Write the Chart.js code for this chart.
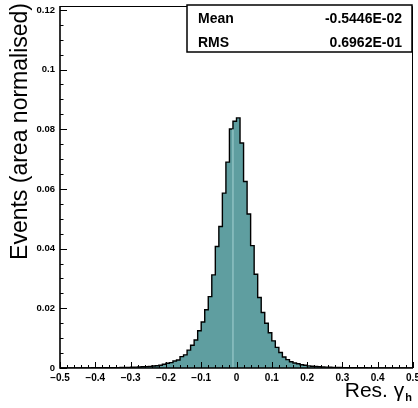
<!DOCTYPE html>
<html><head><meta charset="utf-8">
<script src="https://cdn.jsdelivr.net/npm/chart.js@4/dist/chart.umd.min.js"></script>
<style>html,body{margin:0;padding:0;background:#fff;overflow:hidden}#wrap{width:418px;height:408px}</style>
</head><body><div id="wrap"><canvas id="c" width="418" height="408"></canvas></div>
<script>
// ---- data ----
const xRange = [-0.5, 0.5];
const values = [
  0.00003, 0.00002, 0.00003, 0.00004, 0.00003, 0.00004, 0.00005, 0.00004, 0.00005, 0.00006,
  0.00006, 0.00007, 0.00008, 0.00009, 0.0001, 0.00012, 0.00013, 0.00015, 0.00018, 0.0002,
  0.00024, 0.00028, 0.00033, 0.0004, 0.00047, 0.00055, 0.00065, 0.00077, 0.0009, 0.00124,
  0.0016, 0.0018, 0.00235, 0.0027, 0.0038, 0.0044, 0.0060, 0.0076, 0.0094, 0.0125,
  0.0154, 0.0195, 0.0239, 0.0312, 0.0407, 0.0474, 0.0586, 0.0690, 0.0801, 0.0827,
  0.0838, 0.0754, 0.0625, 0.0516, 0.0410, 0.0314, 0.0236, 0.0186, 0.0150, 0.0118,
  0.0091, 0.0069, 0.0052, 0.0037, 0.0028, 0.0021, 0.0017, 0.0014, 0.0011, 0.0009,
  0.0007, 0.0006, 0.0005, 0.0004, 0.00035, 0.0003, 0.00025, 0.0002, 0.00018, 0.00015,
  0.00013, 0.00011, 0.0001, 0.00009, 0.00008, 0.00007, 0.00006, 0.00005, 0.00005, 0.00004,
  0.00004, 0.00003, 0.00003, 0.00003, 0.00002, 0.00002, 0.00002, 0.00002, 0.00001, 0.00001
];
const xTickValues = [-0.5, -0.4, -0.3, -0.2, -0.1, 0, 0.1, 0.2, 0.3, 0.4, 0.5];
const xTickLabels = ['\u22120.5','\u22120.4','\u22120.3','\u22120.2','\u22120.1','0','0.1','0.2','0.3','0.4','0.5'];
const yTickValues = [0, 0.02, 0.04, 0.06, 0.08, 0.1, 0.12];
const yTickLabels = ['0','0.02','0.04','0.06','0.08','0.1','0.12'];
const statsLabels = ['Mean', 'RMS'];
const statsValues = ['-0.5446E-02', '0.6962E-01'];
const yTitle = 'Events (area normalised)';
const xTitle = 'Res. \u03b3';
const xTitleSub = 'h';
const artifactEdge = -0.01;

// ---- build histogram outline from bins ----
const nBins = values.length;
const binW = (xRange[1] - xRange[0]) / nBins;
const histPts = [];
values.forEach((v, i) => {
  const lo = xRange[0] + i * binW;
  histPts.push({x: lo, y: v}, {x: lo + binW, y: v});
});
const artIdx = Math.round((artifactEdge - xRange[0]) / binW);
const artPts = [{x: artifactEdge, y: 0}, {x: artifactEdge, y: Math.min(values[artIdx - 1], values[artIdx])}];

const FONT = "'Liberation Sans', Arial, Helvetica, sans-serif";
function labelFor(vals, labs, v) {
  for (let i = 0; i < vals.length; i++) if (Math.abs(vals[i] - v) < 1e-6) return labs[i];
  return '';
}

const framePlugin = {
  id: 'frame',
  afterDatasetsDraw(chart) {
    const {ctx, chartArea: a, scales: {x, y}} = chart;
    ctx.save();
    ctx.strokeStyle = '#000';
    ctx.lineWidth = 1;
    ctx.beginPath();
    ctx.moveTo(a.left, a.top + 0.5); ctx.lineTo(a.right - 0.5, a.top + 0.5); ctx.lineTo(a.right - 0.5, a.bottom);
    ctx.stroke();
    ctx.lineWidth = 1.6;
    ctx.beginPath();
    ctx.moveTo(a.left, a.top); ctx.lineTo(a.left, a.bottom); ctx.lineTo(a.right, a.bottom);
    ctx.stroke();
    ctx.lineWidth = 1;
    ctx.beginPath();
    for (let i = 0; i <= 50; i++) {
      const v = xRange[0] + i * 0.02;
      const px = Math.round(x.getPixelForValue(v)) + 0.5;
      const len = (i % 5 === 0) ? 6 : 3;
      ctx.moveTo(px, a.bottom); ctx.lineTo(px, a.bottom - len);
    }
    for (let i = 0; i <= 24; i++) {
      const v = i * 0.005;
      const py = Math.round(y.getPixelForValue(v)) + 0.5;
      const len = (i % 4 === 0) ? 7 : 3.5;
      ctx.moveTo(a.left, py); ctx.lineTo(a.left + len, py);
    }
    ctx.stroke();
    ctx.restore();
  },
  afterDraw(chart) {
    const {ctx} = chart;
    ctx.save();
    ctx.fillStyle = '#fff';
    ctx.fillRect(187, 5, 225, 47);
    ctx.strokeStyle = '#000';
    ctx.lineWidth = 1.5;
    ctx.strokeRect(187, 5, 225, 47);
    ctx.fillStyle = '#000';
    ctx.font = 'bold 14px ' + FONT;
    ctx.textBaseline = 'alphabetic';
    const rows = [23.3, 46.7];
    statsLabels.forEach((l, i) => {
      ctx.textAlign = 'left'; ctx.fillText(l, 198, rows[i]);
      ctx.textAlign = 'right'; ctx.fillText(statsValues[i], 402, rows[i]);
    });
    ctx.save();
    ctx.translate(21, 3);
    ctx.rotate(-Math.PI / 2);
    ctx.font = '23px ' + FONT;
    ctx.textAlign = 'right';
    ctx.textBaseline = 'middle';
    ctx.fillText(yTitle, 0, 0);
    ctx.restore();
    ctx.font = '21px ' + FONT;
    const w1 = ctx.measureText(xTitle).width;
    ctx.font = 'bold 11px ' + FONT;
    const w2 = ctx.measureText(xTitleSub).width;
    const right = 412;
    ctx.textAlign = 'left';
    ctx.textBaseline = 'alphabetic';
    ctx.font = '21px ' + FONT;
    ctx.fillText(xTitle, right - w1 - w2 - 1, 397);
    ctx.font = 'bold 11px ' + FONT;
    ctx.fillText(xTitleSub, right - w2, 401);
    ctx.restore();
  }
};

new Chart(document.getElementById('c').getContext('2d'), {
  type: 'line',
  data: {
    datasets: [
      {data: artPts, borderColor: '#a6d3d3', borderWidth: 1, pointRadius: 0, fill: false},
      {data: histPts, borderColor: '#000', borderWidth: 1.4, backgroundColor: '#5f9ea0', fill: 'origin', pointRadius: 0, tension: 0}
    ]
  },
  options: {
    responsive: false, animation: false, devicePixelRatio: 1,
    layout: {padding: {left: 0, right: 5, top: 6, bottom: 0}},
    plugins: {legend: {display: false}, tooltip: {enabled: false}},
    scales: {
      x: {
        type: 'linear', min: xRange[0], max: xRange[1],
        grid: {display: false, drawTicks: false}, border: {display: false},
        ticks: {stepSize: 0.1, autoSkip: false, maxRotation: 0, padding: 4, color: '#000',
          font: {family: FONT, weight: 'bold', size: 10},
          callback: v => labelFor(xTickValues, xTickLabels, v)},
        afterFit(s) { s.height = 40; s.paddingLeft = 0; s.paddingRight = 0; }
      },
      y: {
        type: 'linear', min: 0, max: 0.1213,
        grid: {display: false, drawTicks: false}, border: {display: false},
        ticks: {stepSize: 0.02, includeBounds: false, autoSkip: false, padding: 5, color: '#000',
          font: {family: FONT, weight: 'bold', size: 9.5},
          callback: v => labelFor(yTickValues, yTickLabels, v)},
        afterFit(s) { s.width = 60; s.paddingTop = 0; s.paddingBottom = 0; }
      }
    }
  },
  plugins: [framePlugin]
});
</script></body></html>
